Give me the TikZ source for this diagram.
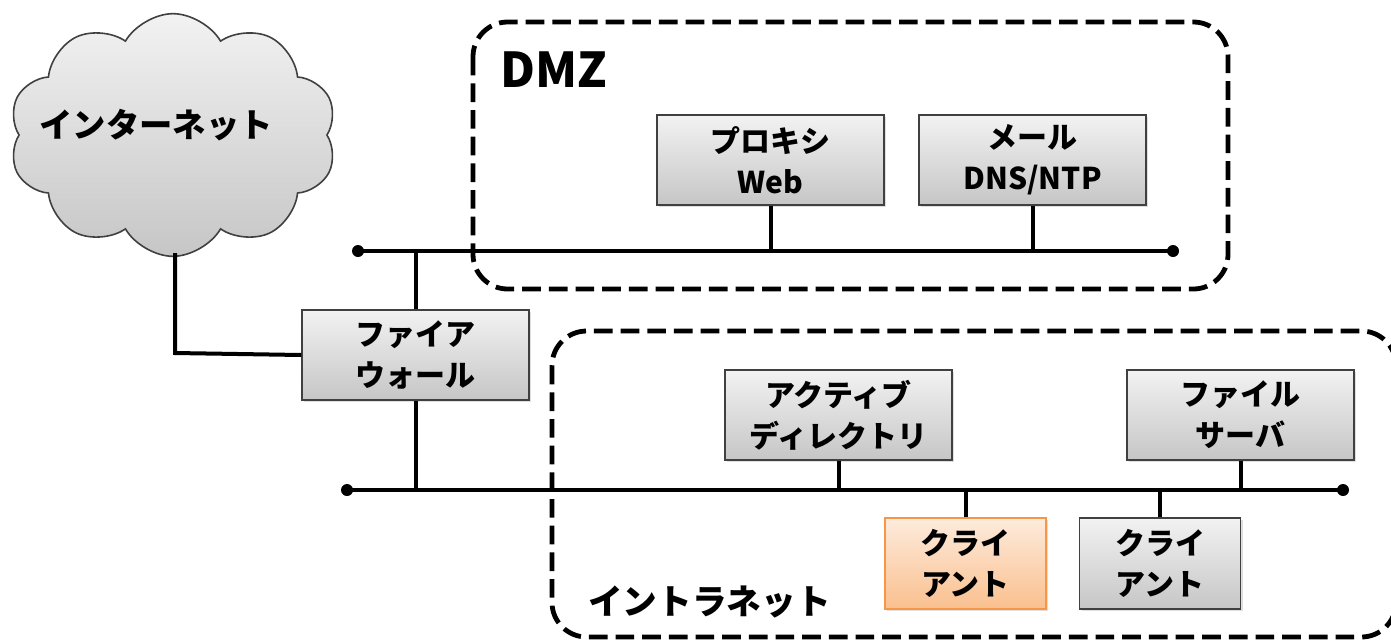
\documentclass[tikz,border=0pt]{standalone}
\usepackage{fontspec}
\setmainfont{Noto Sans CJK JP}
\usetikzlibrary{shapes.symbols,shadows,calc}
\definecolor{boxtop}{HTML}{F2F2F2}
\definecolor{boxbot}{HTML}{C6C6C6}
\definecolor{boxline}{HTML}{404040}
\definecolor{ortop}{HTML}{FDEBDC}
\definecolor{orbot}{HTML}{FAC08F}
\definecolor{orline}{HTML}{F79646}
\begin{document}
\begin{tikzpicture}[x=0.75pt,y=-0.75pt,
  box/.style={draw=boxline, line width=1.2pt, top color=boxtop, bottom color=boxbot,
    minimum width=170pt, minimum height=67.5pt, align=center, inner sep=0pt,
    font=\fontsize{22.5}{31}\selectfont\bfseries,
    drop shadow={opacity=0.25, shadow xshift=1.5pt, shadow yshift=-1.5pt}},
  clientbox/.style={box, minimum width=120.75pt, minimum height=68pt},
  orangebox/.style={clientbox, draw=orline, top color=ortop, bottom color=orbot},
  bus/.style={line width=3pt},
  zone/.style={line width=3.6pt, dash pattern=on 14pt off 6pt, rounded corners=26pt},
  dot/.style={circle, fill=black, inner sep=0pt, minimum size=9pt},
  lbl/.style={anchor=west, inner sep=0pt}]
\useasboundingbox (0,0) rectangle (1391,640);

% zones
\draw[zone] (473,22) rectangle (1228,289);
\draw[zone] (552,331) rectangle (1396,637);
\node[lbl, font=\fontsize{36}{40}\selectfont\bfseries] (dmz) at (500,70) {DMZ};
\node[lbl, font=\fontsize{26}{30}\selectfont\bfseries] (intra) at (588,602) {イントラネット};

% cloud
\node[cloud, cloud puffs=10, cloud puff arc=120, draw=boxline, line width=1.2pt,
  top color=boxtop, bottom color=boxbot, minimum width=246pt, minimum height=182pt,
  inner sep=0pt] (cloud) at (173,135) {};
\node[font=\fontsize{25}{30}\selectfont\bfseries, inner sep=0pt] (net) at (156,125) {インターネット};

% bus coordinates
\node[dot] (dmzL) at (358,251) {};
\node[dot] (dmzR) at (1173,251) {};
\node[dot] (inL) at (347,490) {};
\node[dot] (inR) at (1343,490) {};
\draw[bus] (dmzL.center) -- (dmzR.center);
\draw[bus] (inL.center) -- (inR.center);

% boxes
\node[box] (proxy) at (770.5,160) {プロキシ\\Web};
\node[box] (mail) at (1032.5,160) {メール\\DNS/NTP};
\node[box] (fw) at (415.5,355) {ファイア\\ウォール};
\node[box] (ad) at (838.5,415) {アクティブ\\ディレクトリ};
\node[box] (fs) at (1240.5,415) {ファイル\\サーバ};
\node[orangebox] (c1) at (965.5,563.5) {クライ\\アント};
\node[clientbox] (c2) at (1160,563.5) {クライ\\アント};

% connectors
\draw[bus] (proxy.south) -- (proxy.south |- dmzL.center);
\draw[bus] (mail.south) -- (mail.south |- dmzL.center);
\draw[bus] (fw.north) -- (fw.north |- dmzL.center);
\draw[bus] (fw.south) -- (fw.south |- inL.center);
\draw[bus] (ad.south) -- (ad.south |- inL.center);
\draw[bus] (fs.south) -- (fs.south |- inL.center);
\draw[bus] (c1.north) -- (c1.north |- inL.center);
\draw[bus] (c2.north) -- (c2.north |- inL.center);
\draw[bus] (cloud.south -| 175,0) ++(0,-4) -- (175,353) -- (fw.west);
\end{tikzpicture}
\end{document}
